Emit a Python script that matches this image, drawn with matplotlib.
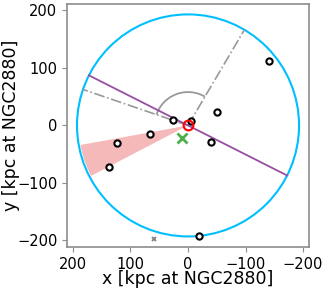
import numpy as np
import matplotlib
matplotlib.use("Agg")
import matplotlib.pyplot as plt
from matplotlib.patches import Circle, Wedge, Arc

# satellite positions [kpc]
sat_x = [-140.8, -50.4, 26.0, -5.5, -40.6, 66.0, 123.5, 136.8, -19.9]
sat_y = [112.0, 23.0, 9.6, 7.8, -29.0, -14.8, -31.0, -71.6, -192.0]
host = (0.0, 0.0)
green_x = [11.2]
green_y = [-21.0]
grey_x = [59.6]
grey_y = [-197.0]

r_circle = 193.0
major_angle = 26.8          # deg, purple axis
dir_angles = [18.9, 120.5]  # deg, dash-dot lines
arc_radius = 58.0
wedge_angles = (-27.5, -10.3)
wedge_radius = 190.0

fig = plt.figure(figsize=(3.27, 2.89), dpi=100)
ax = fig.add_axes([0.204, 0.146, 0.742, 0.840])

ax.add_patch(Circle(host, r_circle, fill=False, edgecolor='#00bfff', lw=1.5, zorder=2))
ax.add_patch(Wedge(host, wedge_radius, wedge_angles[0], wedge_angles[1],
                   facecolor='#f08080', alpha=0.55, edgecolor='none', zorder=1))

a = np.deg2rad(major_angle)
ax.plot([r_circle * np.cos(a), -r_circle * np.cos(a)],
        [r_circle * np.sin(a), -r_circle * np.sin(a)], color='#984ea3', lw=1.3, zorder=3)

for ang in dir_angles:
    t = np.deg2rad(ang)
    ax.plot([0, r_circle * np.cos(t)], [0, r_circle * np.sin(t)], color='0.6',
            ls='-.', lw=1.2, zorder=2)
ax.add_patch(Arc(host, 2 * arc_radius, 2 * arc_radius, theta1=dir_angles[0],
                 theta2=dir_angles[1], color='0.6', lw=1.3, zorder=2))

ax.plot(sat_x, sat_y, 'o', ms=4.5, mfc='white', mec='black', mew=1.5, ls='none', zorder=5)
ax.plot([host[0]], [host[1]], 'o', ms=7, mfc='none', mec='red', mew=1.5, zorder=6)
ax.plot(green_x, green_y, 'x', ms=7, mec='#4daf4a', mew=2, zorder=6)
ax.plot(grey_x, grey_y, 'x', ms=3.5, mec='0.5', mew=1.3, zorder=6)

ax.set_xlim(210, -210)
ax.set_ylim(-211, 211)
ax.set_aspect('equal', adjustable='box')
ax.set_xticks([200, 100, 0, -100, -200])
ax.set_yticks([-200, -100, 0, 100, 200])
for s in ax.spines.values():
    s.set_color('0.55')
    s.set_linewidth(1.2)
ax.tick_params(colors='0.55', labelcolor='black', labelsize=10.5, length=3.5)
ax.set_xlabel('x [kpc at NGC2880]', fontsize=12.5, labelpad=-1)
ax.set_ylabel('y [kpc at NGC2880]', fontsize=12.5, labelpad=-2)

fig.savefig('out.png', dpi=100)
